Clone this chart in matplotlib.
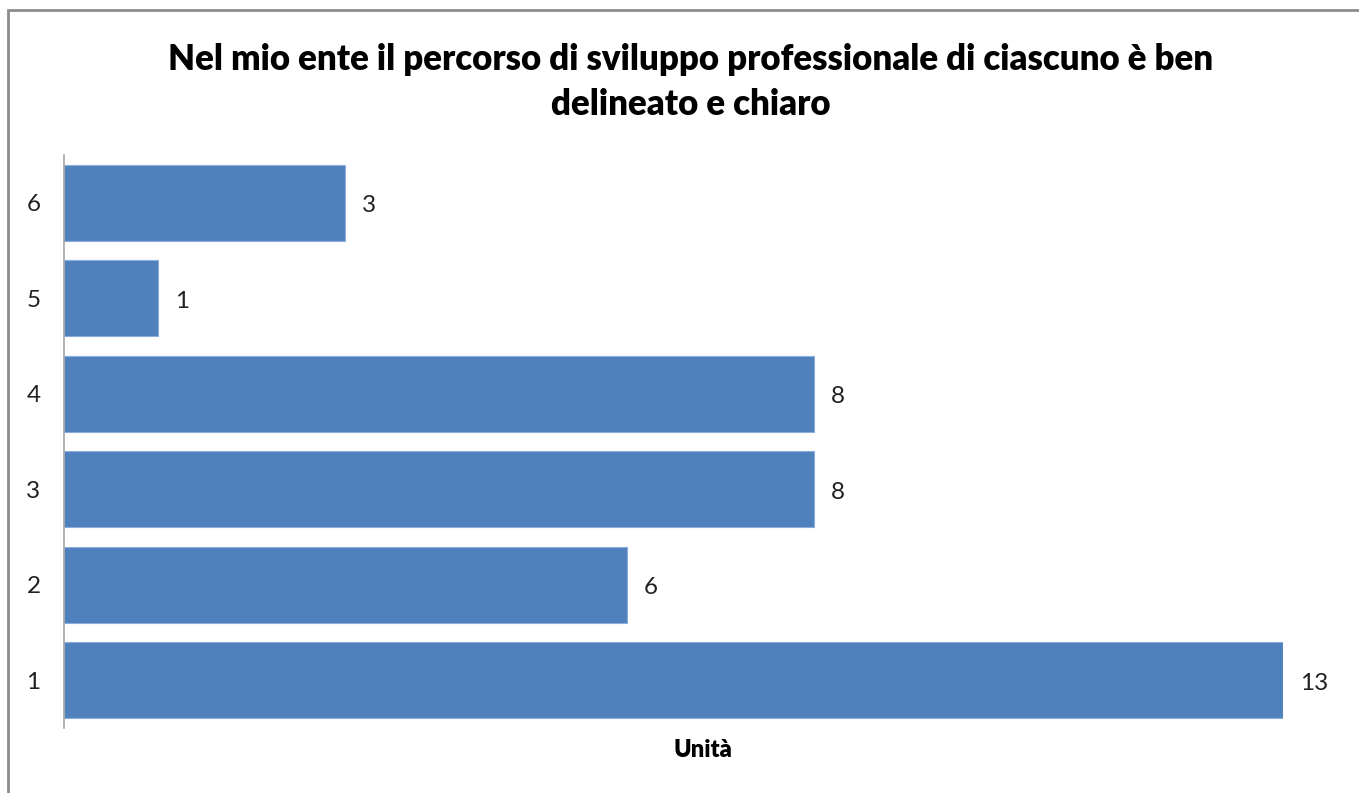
import matplotlib
matplotlib.use("Agg")
import matplotlib.pyplot as plt
from matplotlib.patches import Rectangle

categories = ["1", "2", "3", "4", "5", "6"]
values = [13, 6, 8, 8, 1, 3]
title = "Nel mio ente il percorso di sviluppo professionale di ciascuno è ben\ndelineato e chiaro"
xlabel = "Unità"

plt.rcParams['font.family'] = ['Lato', 'DejaVu Sans']

W, H = 1359, 793
fig = plt.figure(figsize=(W / 100, H / 100), dpi=100)

# outer chart border
fig.patches.append(Rectangle((8 / W, -0.05), 1.2, 1 - 10 / H + 0.05, transform=fig.transFigure,
                             fill=False, edgecolor="#8c8c8c", linewidth=2))

ax = fig.add_axes([64 / W, 1 - 728 / H, (1283 - 64) / W, (728 - 155) / H])
pos = list(range(1, len(categories) + 1))
ax.barh(pos, values, height=0.8, color="#4F81BD", edgecolor="#8aaedb", linewidth=0.8)
ax.set_xlim(0, 13)
ax.set_ylim(0.5, 6.5)
ax.set_yticks(pos)
ax.set_yticklabels(categories, fontsize=17.5, color="#222222")
ax.tick_params(axis="y", length=0, pad=22)
ax.set_xticks([])
for s in ["top", "right", "bottom"]:
    ax.spines[s].set_visible(False)
ax.spines["left"].set_color("#a6a6a6")
ax.spines["left"].set_linewidth(1.2)
for lbl in ax.get_yticklabels():
    lbl.set_horizontalalignment("center")

for p, v in zip(pos, values):
    ax.annotate(str(v), (v, p), xytext=(17, -3), textcoords="offset pixels",
                ha="left", va="center", fontsize=17.5, color="#222222", annotation_clip=False)

fig.text(691 / W, 1 - 82 / H, title, ha="center", va="center", fontsize=25,
         fontweight="heavy", linespacing=1.45, color="#000000")
fig.text(703 / W, 1 - 750 / H, xlabel, ha="center", va="center", fontsize=17,
         fontweight="heavy", color="#000000")

fig.savefig("out.png", dpi=100)
